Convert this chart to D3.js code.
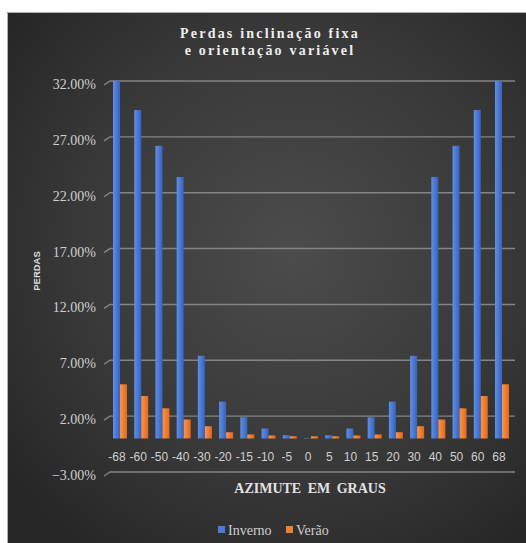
<!DOCTYPE html>
<html>
<head>
<meta charset="utf-8">
<script src="https://cdn.jsdelivr.net/npm/d3@7"></script>
<style>
  html, body { margin: 0; padding: 0; background: #ffffff; }
  svg { display: block; }
</style>
</head>
<body>
<svg id="chart" width="526" height="543"></svg>
<script>
// Azimuth categories (degrees) and loss percentages per season
const categories = ["-68","-60","-50","-40","-30","-20","-15","-10","-5","0","5","10","15","20","30","40","50","60","68"];
const inverno = [32.0, 29.4, 26.2, 23.4, 7.4, 3.3, 1.9, 0.9, 0.3, 0.05, 0.3, 0.9, 1.9, 3.3, 7.4, 23.4, 26.2, 29.4, 32.0];
const verao   = [4.85, 3.8, 2.7, 1.7, 1.1, 0.56, 0.36, 0.27, 0.2, 0.2, 0.2, 0.27, 0.36, 0.56, 1.1, 1.7, 2.7, 3.8, 4.85];
const yTicks = [-3, 2, 7, 12, 17, 22, 27, 32];
const seriesNames = ["Inverno", "Verão"];

const svg = d3.select("#chart");
const W = 526, H = 543;

// Background panel with soft radial shading
const defs = svg.append("defs");
const bg = defs.append("radialGradient").attr("id", "bgGrad")
  .attr("cx", "55%").attr("cy", "45%").attr("r", "70%");
bg.append("stop").attr("offset", "0%").attr("stop-color", "#4c4c4c");
bg.append("stop").attr("offset", "60%").attr("stop-color", "#383838");
bg.append("stop").attr("offset", "100%").attr("stop-color", "#262626");

const gBlue = defs.append("linearGradient").attr("id", "gBlue").attr("x1", "0").attr("x2", "1");
gBlue.append("stop").attr("offset", "0%").attr("stop-color", "#5f8fe6");
gBlue.append("stop").attr("offset", "100%").attr("stop-color", "#3762bf");
const gOrange = defs.append("linearGradient").attr("id", "gOrange").attr("x1", "0").attr("x2", "1");
gOrange.append("stop").attr("offset", "0%").attr("stop-color", "#fb9448");
gOrange.append("stop").attr("offset", "100%").attr("stop-color", "#df6a1e");

svg.append("rect").attr("x", 7).attr("y", 12).attr("width", W - 7).attr("height", H - 12)
  .attr("fill", "url(#bgGrad)");
svg.append("path").attr("d", `M7.5,${H} V12.5 H${W}`).attr("fill", "none")
  .attr("stroke", "#b0b0b0").attr("stroke-width", 1);

// Scales
const y = d3.scaleLinear().domain([-3, 32]).range([472, 81]);
const x = d3.scaleBand().domain(categories).range([113, 509]).paddingInner(0.34).paddingOuter(0.0);
const xs = d3.scaleBand().domain(seriesNames).range([0, x.bandwidth()]);

// Gridlines with the slanted front stubs
const grid = svg.append("g");
yTicks.forEach(v => {
  const yy = y(v);
  grid.append("path")
    .attr("d", `M104,${yy + 4} L110,${yy} H515`)
    .attr("fill", "none").attr("stroke", "#848484").attr("stroke-width", 1.4);
});

// Y axis labels
const yAxis = d3.axisLeft(y).tickValues(yTicks).tickSize(0).tickPadding(0)
  .tickFormat(d => d3.format(".2f")(d) + "%");
const yg = svg.append("g").attr("transform", "translate(96,3)").call(yAxis);
yg.select(".domain").remove();
yg.selectAll("text").attr("fill", "#cfcfcf")
  .style("font-family", "'Liberation Serif', serif").style("font-size", "14px");

// Bars
const series = [
  { name: "Inverno", values: inverno, fill: "url(#gBlue)" },
  { name: "Verão", values: verao, fill: "url(#gOrange)" }
];
series.forEach(s => {
  svg.append("g").selectAll("rect").data(categories).join("rect")
    .attr("x", (c) => x(c) + xs(s.name))
    .attr("width", xs.bandwidth())
    .attr("y", (c, i) => y(s.values[i]))
    .attr("height", (c, i) => y(0) - y(s.values[i]))
    .attr("fill", s.fill);
});

// X axis labels
const xAxis = d3.axisBottom(x).tickSize(0).tickPadding(0);
const xg = svg.append("g").attr("transform", "translate(-3,452)").call(xAxis);
xg.select(".domain").remove();
xg.selectAll("text").attr("fill", "#cfcfcf")
  .style("font-family", "'Liberation Sans', sans-serif").style("font-size", "12px");

// Titles
const title = svg.append("text").attr("x", 270).attr("text-anchor", "middle")
  .attr("fill", "#eeeeee")
  .style("font-family", "'Liberation Serif', serif").style("font-weight", "bold")
  .style("font-size", "14px").style("letter-spacing", "2.2px");
title.append("tspan").attr("x", 270).attr("y", 38).text("Perdas inclinação fixa");
title.append("tspan").attr("x", 270).attr("y", 55).text("e orientação variável");

svg.append("text").attr("x", 310).attr("y", 493).attr("text-anchor", "middle")
  .attr("fill", "#e2e2e2")
  .style("font-family", "'Liberation Serif', serif").style("font-weight", "bold")
  .style("font-size", "14px").style("word-spacing", "3px")
  .text("AZIMUTE EM GRAUS");

svg.append("text")
  .attr("transform", "translate(40,271) rotate(-90)")
  .attr("text-anchor", "middle").attr("fill", "#dcdcdc")
  .style("font-family", "'Liberation Sans', sans-serif").style("font-weight", "bold")
  .style("font-size", "9.5px")
  .text("PERDAS");

// Legend
const legend = svg.append("g").attr("transform", "translate(218,530)");
const legendItems = [
  { name: "Inverno", color: "#4a7bd8", dx: 0 },
  { name: "Verão", color: "#f07f30", dx: 68 }
];
legendItems.forEach(it => {
  const g = legend.append("g").attr("transform", `translate(${it.dx},0)`);
  g.append("rect").attr("x", 0).attr("y", -4).attr("width", 7).attr("height", 7).attr("fill", it.color);
  g.append("text").attr("x", 10).attr("y", 5).attr("fill", "#cfcfcf")
    .style("font-family", "'Liberation Serif', serif").style("font-size", "14px")
    .text(it.name);
});
</script>
</body>
</html>
